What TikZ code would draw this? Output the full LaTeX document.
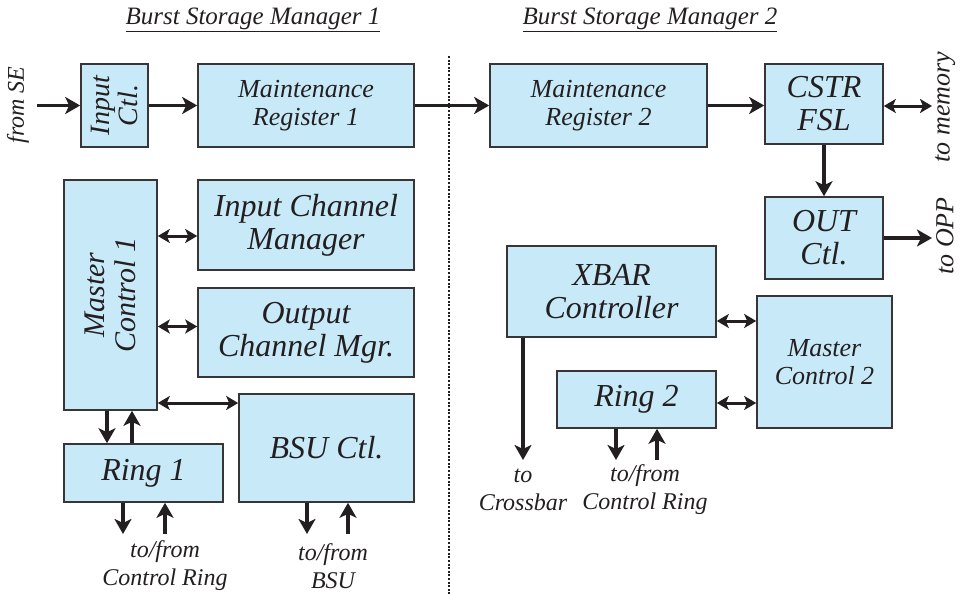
\documentclass[tikz,border=0pt]{standalone}
\usepackage{fontspec}
\setmainfont{Liberation Serif}
\usetikzlibrary{positioning, arrows.meta}
\definecolor{boxblue}{RGB}{200,234,248}
\definecolor{ink}{RGB}{35,31,32}

\begin{document}
\begin{tikzpicture}[x=1pt, y=-1pt, ink]
    \tikzstyle{block} = [rectangle, draw=ink!90, line width=1.6pt, fill=boxblue,
    align=center, inner sep=0pt, font=\itshape\fontsize{32}{33}\selectfont]
    \tikzstyle{mid} = [font=\itshape\fontsize{26}{28}\selectfont]
    \tikzstyle{lbl} = [align=center, inner sep=0pt, font=\itshape\fontsize{24}{28}\selectfont]
    \tikzstyle{line} = [draw, line width=3.6pt, -{Stealth[length=15pt, width=17pt, inset=4pt]}]
    \tikzstyle{both} = [draw, line width=3pt,
    {Stealth[length=12pt, width=14pt, inset=3pt]}-{Stealth[length=12pt, width=14pt, inset=3pt]}]
    \useasboundingbox (0,0) rectangle (964,594);
    % titles and divider
    \node [lbl, font=\itshape\fontsize{25}{28}\selectfont] (title1) at (253,20) {\underline{Burst Storage Manager 1}};
    \node [lbl, font=\itshape\fontsize{25}{28}\selectfont] (title2) at (650,20) {\underline{Burst Storage Manager 2}};
    \draw [line width=1.6pt, dash pattern=on 2pt off 1.6pt] (449,56) -- (449,594);
    % manager 1
    \node [block, mid, rotate=90, minimum width=83pt, minimum height=67pt,
    font=\itshape\fontsize{28}{28}\selectfont] (inputctl) at (114.5,105.5) {Input\\Ctl.};
    \node [block, mid, minimum width=216pt, minimum height=83pt] (mreg1) at (306,105.5) {Maintenance\\Register 1};
    \node [block, rotate=90, minimum width=230pt, minimum height=93pt,
    font=\itshape\fontsize{30}{31}\selectfont] (mc1) at (110.5,295) {Master\\Control 1};
    \node [block, minimum width=216pt, minimum height=90pt] (icm) at (306,225) {Input Channel\\Manager};
    \node [block, minimum width=216pt, minimum height=89pt] (ocm) at (306,332.5) {Output\\Channel Mgr.};
    \node [block, minimum width=175pt, minimum height=108pt] (bsu) at (326.5,448) {BSU Ctl.};
    \node [block, minimum width=159pt, minimum height=58pt] (ring1) at (143.5,473) {Ring 1};
    \node [lbl, rotate=90] (fromse) at (18,105) {from SE};
    \node [lbl] (ctlring1) at (165,566) {to/from\\Control Ring};
    \node [lbl] (tobsu) at (333,566) {to/from\\BSU};
    % manager 2
    \node [block, mid, minimum width=217pt, minimum height=83pt] (mreg2) at (598.5,105.5) {Maintenance\\Register 2};
    \node [block, minimum width=118pt, minimum height=80pt] (cstr) at (824,104) {CSTR\\FSL};
    \node [block, minimum width=118pt, minimum height=82pt] (outctl) at (824,238) {OUT\\Ctl.};
    \node [block, minimum width=209pt, minimum height=91pt] (xbar) at (611.5,291.5) {XBAR\\Controller};
    \node [block, mid, minimum width=135pt, minimum height=132pt] (mc2) at (824.5,362) {Master\\Control 2};
    \node [block, minimum width=159pt, minimum height=57pt] (ring2) at (636.5,399.5) {Ring 2};
    \node [lbl, rotate=90, font=\itshape\fontsize{26}{28}\selectfont] (tomem) at (945,107) {to memory};
    \node [lbl, rotate=90, font=\itshape\fontsize{26}{28}\selectfont] (toopp) at (945,236) {to OPP};
    \node [lbl] (tocross) at (523,490) {to\\Crossbar};
    \node [lbl] (ctlring2) at (645,490) {to/from\\Control Ring};
    % free ends
    \coordinate (se) at (37,105.5);
    \coordinate (mem) at (932,106);
    \coordinate (opp) at (932,238);
    \coordinate (r1out) at (123,534);
    \coordinate (r1in) at (165,534);
    \coordinate (bsuout) at (307,534);
    \coordinate (bsuin) at (348,534);
    \coordinate (xout) at (523,460);
    \coordinate (r2out) at (616,460);
    \coordinate (r2in) at (657,460);
    % connectors
    \path [line] (se) -- (inputctl);
    \path [line] (inputctl) -- (mreg1);
    \path [line] (mreg1) -- (mreg2);
    \path [line] (mreg2.east) -- (mreg2.east -| cstr.west);
    \path [both] (cstr.east |- mem) -- (mem);
    \path [line] (cstr) -- (outctl);
    \path [line] (outctl.east |- opp) -- (opp);
    \path [both] ([yshift=-11pt]icm.west -| mc1.south) -- ([yshift=-11pt]icm.west);
    \path [both] ([yshift=6pt]ocm.west -| mc1.south) -- ([yshift=6pt]ocm.west);
    \path [both] ([yshift=45pt]bsu.west -| mc1.south) -- ([yshift=45pt]bsu.west);
    \path [line] (mc1.west -| 107,0) -- (ring1.north -| 107,0);
    \path [line] (ring1.north -| 132,0) -- (mc1.west -| 132,0);
    \path [line] (ring1.south -| r1out) -- (r1out);
    \path [line] (r1in) -- (ring1.south -| r1in);
    \path [line] (bsu.south -| bsuout) -- (bsuout);
    \path [line] (bsuin) -- (bsu.south -| bsuin);
    \path [both] ([yshift=-29.5pt]xbar.east) -- ([yshift=-29.5pt]xbar.east -| mc2.west);
    \path [both] ([yshift=-3.5pt]ring2.east) -- ([yshift=-3.5pt]ring2.east -| mc2.west);
    \path [line] (xbar.south -| xout) -- (xout);
    \path [line] (ring2.south -| r2out) -- (r2out);
    \path [line] (r2in) -- (ring2.south -| r2in);
\end{tikzpicture}
\end{document}
